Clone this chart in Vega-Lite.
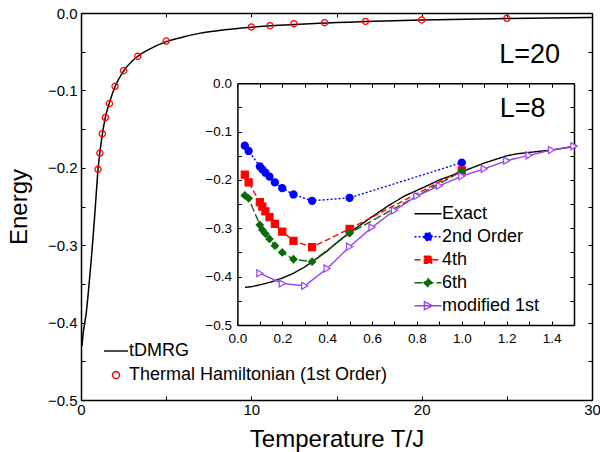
{
  "$schema": "https://vega.github.io/schema/vega-lite/v6.json",
  "width": 511,
  "height": 387,
  "autosize": "none",
  "padding": {"left": 81, "top": 13, "right": 8, "bottom": 52},
  "config": {
    "font": "Liberation Sans",
    "view": {"stroke": null},
    "axis": {"grid": false, "domainColor": "black", "domainWidth": 1.5, "tickColor": "black", "tickWidth": 1, "tickSize": -4, "labelColor": "black", "labelFontSize": 15, "labelOverlap": false, "labelFlush": false, "labelBound": false, "titleColor": "black", "titleFontWeight": "normal"},
    "legend": {"labelFont": "Liberation Sans", "labelFontSize": 18, "labelColor": "black", "labelLimit": 400, "padding": 0, "offset": 0}
  },
  "datasets": {
    "main": [
      {"series": "tDMRG", "T": 0.06, "E": -0.430},
      {"series": "tDMRG", "T": 0.12, "E": -0.415},
      {"series": "tDMRG", "T": 0.2, "E": -0.403},
      {"series": "tDMRG", "T": 0.3, "E": -0.389},
      {"series": "tDMRG", "T": 0.4, "E": -0.368},
      {"series": "tDMRG", "T": 0.5, "E": -0.344},
      {"series": "tDMRG", "T": 0.6, "E": -0.319},
      {"series": "tDMRG", "T": 0.7, "E": -0.292},
      {"series": "tDMRG", "T": 0.8, "E": -0.263},
      {"series": "tDMRG", "T": 0.9, "E": -0.232},
      {"series": "tDMRG", "T": 1.0, "E": -0.202},
      {"series": "tDMRG", "T": 1.11, "E": -0.180},
      {"series": "tDMRG", "T": 1.25, "E": -0.157},
      {"series": "tDMRG", "T": 1.43, "E": -0.135},
      {"series": "tDMRG", "T": 1.67, "E": -0.116},
      {"series": "tDMRG", "T": 2.0, "E": -0.095},
      {"series": "tDMRG", "T": 2.5, "E": -0.075},
      {"series": "tDMRG", "T": 3.33, "E": -0.056},
      {"series": "tDMRG", "T": 4.0, "E": -0.047},
      {"series": "tDMRG", "T": 5.0, "E": -0.037},
      {"series": "tDMRG", "T": 6.0, "E": -0.031},
      {"series": "tDMRG", "T": 7.0, "E": -0.026},
      {"series": "tDMRG", "T": 8.0, "E": -0.023},
      {"series": "tDMRG", "T": 10.0, "E": -0.0185},
      {"series": "tDMRG", "T": 12.0, "E": -0.0155},
      {"series": "tDMRG", "T": 14.0, "E": -0.0132},
      {"series": "tDMRG", "T": 16.7, "E": -0.0111},
      {"series": "tDMRG", "T": 20.0, "E": -0.0092},
      {"series": "tDMRG", "T": 25.0, "E": -0.0072},
      {"series": "tDMRG", "T": 30.0, "E": -0.0058}
    ],
    "thermal": [
      {"T": 1.0, "E": -0.202},
      {"T": 1.11, "E": -0.181},
      {"T": 1.25, "E": -0.156},
      {"T": 1.43, "E": -0.135},
      {"T": 1.67, "E": -0.117},
      {"T": 2.0, "E": -0.0947},
      {"T": 2.5, "E": -0.0745},
      {"T": 3.33, "E": -0.056},
      {"T": 5.0, "E": -0.0362},
      {"T": 10.0, "E": -0.018},
      {"T": 11.1, "E": -0.0164},
      {"T": 12.5, "E": -0.0138},
      {"T": 14.3, "E": -0.0125},
      {"T": 16.7, "E": -0.0108},
      {"T": 20.0, "E": -0.009},
      {"T": 25.0, "E": -0.0069}
    ],
    "inset": [
      {"series": "Exact", "T": 0.034, "E": -0.422},
      {"series": "Exact", "T": 0.06, "E": -0.421},
      {"series": "Exact", "T": 0.1, "E": -0.417},
      {"series": "Exact", "T": 0.15, "E": -0.411},
      {"series": "Exact", "T": 0.2, "E": -0.403},
      {"series": "Exact", "T": 0.25, "E": -0.393},
      {"series": "Exact", "T": 0.3, "E": -0.380},
      {"series": "Exact", "T": 0.334, "E": -0.369},
      {"series": "Exact", "T": 0.4, "E": -0.347},
      {"series": "Exact", "T": 0.457, "E": -0.324},
      {"series": "Exact", "T": 0.5, "E": -0.309},
      {"series": "Exact", "T": 0.6, "E": -0.276},
      {"series": "Exact", "T": 0.68, "E": -0.251},
      {"series": "Exact", "T": 0.75, "E": -0.232},
      {"series": "Exact", "T": 0.836, "E": -0.214},
      {"series": "Exact", "T": 0.9, "E": -0.200},
      {"series": "Exact", "T": 1.0, "E": -0.183},
      {"series": "Exact", "T": 1.1, "E": -0.165},
      {"series": "Exact", "T": 1.2, "E": -0.150},
      {"series": "Exact", "T": 1.244, "E": -0.146},
      {"series": "Exact", "T": 1.3, "E": -0.143},
      {"series": "Exact", "T": 1.4, "E": -0.138},
      {"series": "Exact", "T": 1.5, "E": -0.131},
      {"series": "2nd Order", "T": 0.033, "E": -0.129},
      {"series": "2nd Order", "T": 0.05, "E": -0.140},
      {"series": "2nd Order", "T": 0.1, "E": -0.172},
      {"series": "2nd Order", "T": 0.111, "E": -0.178},
      {"series": "2nd Order", "T": 0.125, "E": -0.185},
      {"series": "2nd Order", "T": 0.143, "E": -0.193},
      {"series": "2nd Order", "T": 0.167, "E": -0.205},
      {"series": "2nd Order", "T": 0.2, "E": -0.217},
      {"series": "2nd Order", "T": 0.25, "E": -0.230},
      {"series": "2nd Order", "T": 0.333, "E": -0.243},
      {"series": "2nd Order", "T": 0.5, "E": -0.237},
      {"series": "2nd Order", "T": 1.0, "E": -0.164},
      {"series": "4th", "T": 0.033, "E": -0.189},
      {"series": "4th", "T": 0.05, "E": -0.205},
      {"series": "4th", "T": 0.1, "E": -0.246},
      {"series": "4th", "T": 0.111, "E": -0.255},
      {"series": "4th", "T": 0.125, "E": -0.265},
      {"series": "4th", "T": 0.143, "E": -0.277},
      {"series": "4th", "T": 0.167, "E": -0.291},
      {"series": "4th", "T": 0.2, "E": -0.307},
      {"series": "4th", "T": 0.25, "E": -0.326},
      {"series": "4th", "T": 0.333, "E": -0.339},
      {"series": "4th", "T": 0.5, "E": -0.301},
      {"series": "4th", "T": 1.0, "E": -0.180},
      {"series": "6th", "T": 0.033, "E": -0.232},
      {"series": "6th", "T": 0.05, "E": -0.238},
      {"series": "6th", "T": 0.1, "E": -0.293},
      {"series": "6th", "T": 0.111, "E": -0.303},
      {"series": "6th", "T": 0.125, "E": -0.311},
      {"series": "6th", "T": 0.143, "E": -0.322},
      {"series": "6th", "T": 0.167, "E": -0.336},
      {"series": "6th", "T": 0.2, "E": -0.350},
      {"series": "6th", "T": 0.25, "E": -0.364},
      {"series": "6th", "T": 0.333, "E": -0.369},
      {"series": "6th", "T": 0.5, "E": -0.310},
      {"series": "6th", "T": 1.0, "E": -0.182},
      {"series": "modified 1st", "T": 0.1, "E": -0.393},
      {"series": "modified 1st", "T": 0.2, "E": -0.414},
      {"series": "modified 1st", "T": 0.3, "E": -0.419},
      {"series": "modified 1st", "T": 0.4, "E": -0.383},
      {"series": "modified 1st", "T": 0.5, "E": -0.338},
      {"series": "modified 1st", "T": 0.6, "E": -0.298},
      {"series": "modified 1st", "T": 0.7, "E": -0.263},
      {"series": "modified 1st", "T": 0.8, "E": -0.233},
      {"series": "modified 1st", "T": 0.9, "E": -0.212},
      {"series": "modified 1st", "T": 1.0, "E": -0.192},
      {"series": "modified 1st", "T": 1.1, "E": -0.177},
      {"series": "modified 1st", "T": 1.2, "E": -0.160},
      {"series": "modified 1st", "T": 1.3, "E": -0.149},
      {"series": "modified 1st", "T": 1.4, "E": -0.138},
      {"series": "modified 1st", "T": 1.5, "E": -0.130}
    ]
  },
  "layer": [
    {
      "data": {"name": "main"},
      "mark": {"type": "line", "strokeWidth": 1.5, "interpolate": "monotone"},
      "encoding": {
        "x": {"field": "T", "type": "quantitative", "scale": {"domain": [0, 30], "nice": false, "zero": false},
          "axis": {"orient": "bottom", "values": [0, 5, 10, 15, 20, 25, 30], "labelExpr": "datum.value % 10 === 0 ? format(datum.value, 'd') : ''", "labelPadding": 6, "title": "Temperature T/J", "titleFontSize": 24, "titleY": 46, "titleBaseline": "alphabetic"}},
        "y": {"field": "E", "type": "quantitative", "scale": {"domain": [-0.5, 0], "nice": false, "zero": false},
          "axis": {"orient": "left", "values": [-0.5, -0.45, -0.4, -0.35, -0.3, -0.25, -0.2, -0.15, -0.1, -0.05, 0], "labelExpr": "abs(datum.value*10 - round(datum.value*10)) < 0.001 ? format(datum.value, '.1f') : ''", "labelPadding": 8, "title": "Energy", "titleFontSize": 24, "titleX": -62, "titleY": 193.5, "titleBaseline": "middle"}},
        "color": {"field": "series", "type": "nominal", "scale": {"domain": ["tDMRG", "Thermal Hamiltonian (1st Order)"], "range": ["black", "red"]},
          "legend": {"title": null, "orient": "none", "legendX": 25, "legendY": 328, "symbolSize": 324, "labelOffset": 3, "rowPadding": 5, "labelLimit": 400,
            "encode": {"symbols": {"update": {
              "shape": {"signal": "datum.value === 'tDMRG' ? 'M-1.33,0H1.33' : 'M-0.39,0A0.39,0.39 0 1,0 0.39,0A0.39,0.39 0 1,0 -0.39,0Z'"},
              "stroke": {"signal": "datum.value === 'tDMRG' ? 'black' : 'red'"},
              "fill": {"value": "transparent"},
              "strokeWidth": {"value": 1.4}}}}}}
      }
    },
    {
      "data": {"name": "thermal"},
      "mark": {"type": "point", "shape": "circle", "filled": false, "color": "red", "size": 38, "strokeWidth": 1.3, "opacity": 1},
      "encoding": {
        "x": {"field": "T", "type": "quantitative", "scale": {"domain": [0, 30], "nice": false, "zero": false},
          "axis": {"orient": "top", "values": [0, 5, 10, 15, 20, 25, 30], "labels": false, "title": null}},
        "y": {"field": "E", "type": "quantitative", "scale": {"domain": [-0.5, 0], "nice": false, "zero": false},
          "axis": {"orient": "right", "values": [-0.5, -0.45, -0.4, -0.35, -0.3, -0.25, -0.2, -0.15, -0.1, -0.05, 0], "labels": false, "title": null}}
      }
    },
    {
      "data": {"values": [{"label": "L=20", "T": 28.12, "E": -0.0642}]},
      "mark": {"type": "text", "fontSize": 27, "align": "right", "baseline": "alphabetic", "color": "black"},
      "encoding": {
        "x": {"field": "T", "type": "quantitative", "scale": {"domain": [0, 30], "nice": false, "zero": false}, "axis": null},
        "y": {"field": "E", "type": "quantitative", "scale": {"domain": [-0.5, 0], "nice": false, "zero": false}, "axis": null},
        "text": {"field": "label"}
      }
    },
    {
      "data": {"name": "inset"},
      "mark": {"type": "line", "strokeWidth": 1.4},
      "encoding": {
        "x": {"field": "T", "type": "quantitative", "scale": {"domain": [0, 1.5], "range": [156.4, 493], "nice": false, "zero": false},
          "axis": {"orient": "bottom", "offset": -75, "values": [0, 0.1, 0.2, 0.3, 0.4, 0.5, 0.6, 0.7, 0.8, 0.9, 1.0, 1.1, 1.2, 1.3, 1.4, 1.5], "labelExpr": "abs(datum.value*5 - round(datum.value*5)) < 0.001 && datum.value < 1.45 ? format(datum.value, '.1f') : ''", "labelFontSize": 13.5, "labelPadding": 10, "title": null}},
        "y": {"field": "E", "type": "quantitative", "scale": {"domain": [-0.5, 0], "range": [312, 70.3], "nice": false, "zero": false},
          "axis": {"orient": "left", "offset": -156.4, "values": [-0.5, -0.45, -0.4, -0.35, -0.3, -0.25, -0.2, -0.15, -0.1, -0.05, 0], "labelExpr": "abs(datum.value*10 - round(datum.value*10)) < 0.001 ? format(datum.value, '.1f') : ''", "labelFontSize": 13.5, "labelPadding": 10, "title": null}},
        "color": {"field": "series", "type": "nominal", "scale": {"domain": ["Exact", "2nd Order", "4th", "6th", "modified 1st"], "range": ["black", "#0000ff", "#ff0000", "#0b6b0b", "#9b40f5"]},
          "legend": {"title": null, "orient": "none", "legendX": 337, "legendY": 190.7, "symbolSize": 324, "labelOffset": 4, "rowPadding": 4,
            "encode": {"symbols": {"update": {
              "shape": {"signal": "datum.value === 'Exact' ? 'M-1.5,0H1.5' : datum.value === '2nd Order' ? 'M-1.5,0H1.5M-0.45,0A0.45,0.45 0 1,0 0.45,0A0.45,0.45 0 1,0 -0.45,0Z' : datum.value === '4th' ? 'M-1.5,0H1.5M-0.4,-0.4H0.4V0.4H-0.4Z' : datum.value === '6th' ? 'M-1.5,0H1.5M0,-0.45L0.45,0L0,0.45L-0.45,0Z' : 'M-1.5,0H1.5M-0.4,-0.45L0.5,0L-0.4,0.45Z'"},
              "stroke": {"signal": "datum.value === 'Exact' ? 'black' : datum.value === '2nd Order' ? '#0000ff' : datum.value === '4th' ? '#ff0000' : datum.value === '6th' ? '#0b6b0b' : '#9b40f5'"},
              "fill": {"signal": "datum.value === '2nd Order' ? '#0000ff' : datum.value === '4th' ? '#ff0000' : datum.value === '6th' ? '#0b6b0b' : 'transparent'"},
              "strokeDash": {"signal": "datum.value === '2nd Order' ? [2,2] : datum.value === '4th' ? [6,3] : datum.value === '6th' ? [8,3] : [1,0]"},
              "strokeWidth": {"value": 1.4}}}}}},
        "strokeDash": {"field": "series", "type": "nominal", "scale": {"domain": ["Exact", "2nd Order", "4th", "6th", "modified 1st"], "range": [[1, 0], [2, 2], [6, 3], [8, 3], [1, 0]]}, "legend": null}
      }
    },
    {
      "data": {"name": "inset"},
      "transform": [{"filter": "datum.series !== 'Exact'"}],
      "mark": {"type": "point", "size": 50, "strokeWidth": 1.2, "opacity": 1},
      "encoding": {
        "x": {"field": "T", "type": "quantitative", "scale": {"domain": [0, 1.5], "range": [156.4, 493], "nice": false, "zero": false},
          "axis": {"orient": "top", "offset": -70.3, "values": [0, 0.1, 0.2, 0.3, 0.4, 0.5, 0.6, 0.7, 0.8, 0.9, 1.0, 1.1, 1.2, 1.3, 1.4, 1.5], "labels": false, "title": null}},
        "y": {"field": "E", "type": "quantitative", "scale": {"domain": [-0.5, 0], "range": [312, 70.3], "nice": false, "zero": false},
          "axis": {"orient": "right", "offset": -18, "values": [-0.5, -0.45, -0.4, -0.35, -0.3, -0.25, -0.2, -0.15, -0.1, -0.05, 0], "labels": false, "title": null}},
        "shape": {"field": "series", "type": "nominal", "scale": {"domain": ["2nd Order", "4th", "6th", "modified 1st"], "range": ["circle", "square", "diamond", "triangle-right"]}, "legend": null},
        "stroke": {"field": "series", "type": "nominal", "scale": {"domain": ["2nd Order", "4th", "6th", "modified 1st"], "range": ["#0000ff", "#ff0000", "#0b6b0b", "#9b40f5"]}, "legend": null},
        "fill": {"field": "series", "type": "nominal", "scale": {"domain": ["2nd Order", "4th", "6th", "modified 1st"], "range": ["#0000ff", "#ff0000", "#0b6b0b", "#ffffff"]}, "legend": null}
      }
    },
    {
      "data": {"values": [{"label": "L=8", "T": 1.373, "E": -0.0696}]},
      "mark": {"type": "text", "fontSize": 27, "align": "right", "baseline": "alphabetic", "color": "black"},
      "encoding": {
        "x": {"field": "T", "type": "quantitative", "scale": {"domain": [0, 1.5], "range": [156.4, 493], "nice": false, "zero": false}, "axis": null},
        "y": {"field": "E", "type": "quantitative", "scale": {"domain": [-0.5, 0], "range": [312, 70.3], "nice": false, "zero": false}, "axis": null},
        "text": {"field": "label"}
      }
    }
  ],
  "resolve": {
    "scale": {"x": "independent", "y": "independent", "color": "independent", "strokeDash": "independent", "shape": "independent", "fill": "independent", "stroke": "independent"},
    "axis": {"x": "independent", "y": "independent"},
    "legend": {"color": "independent"}
  }
}
